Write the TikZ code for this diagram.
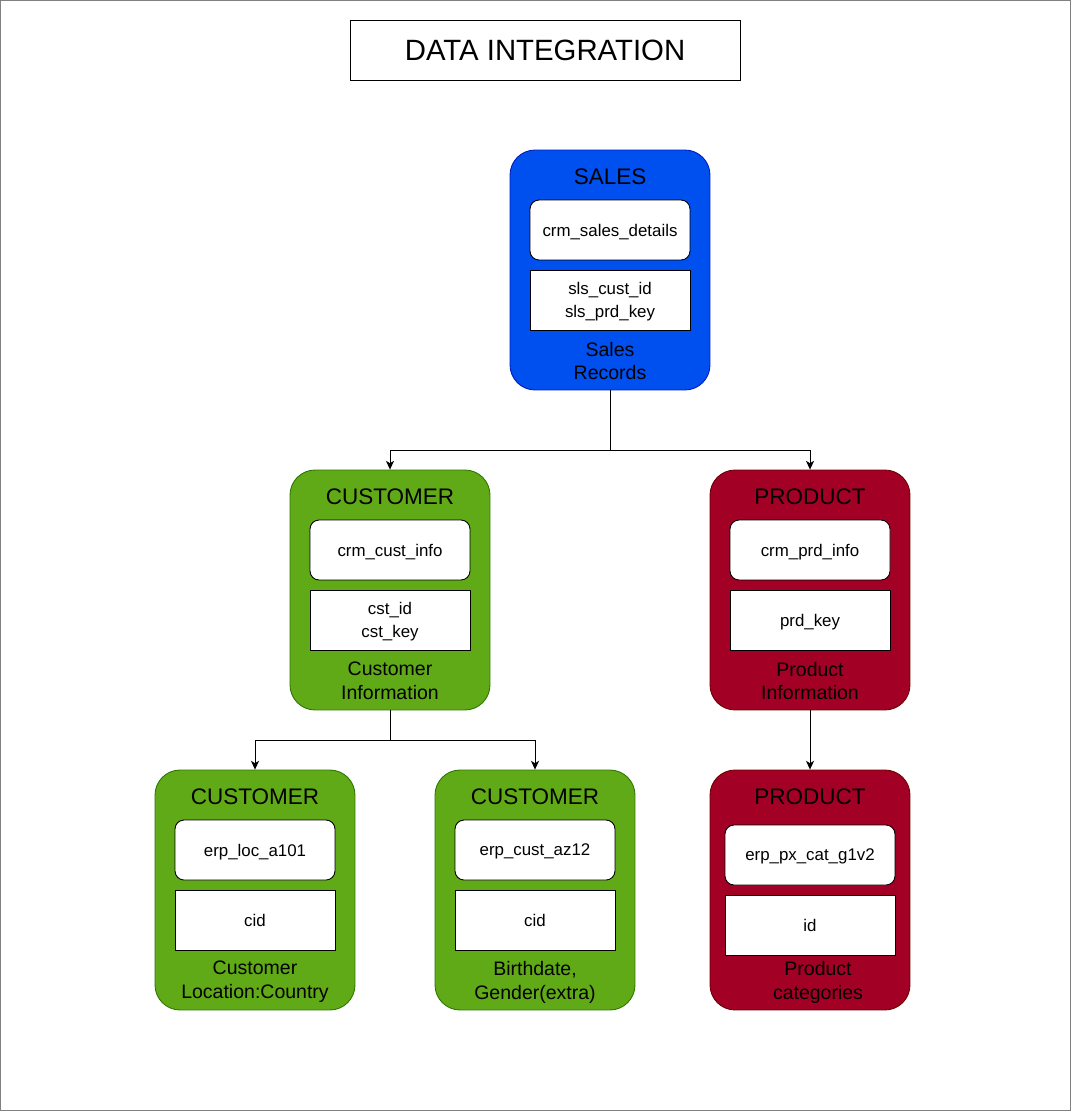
\documentclass[tikz,border=0pt]{standalone}
\usepackage{fontspec}
\setmainfont{Liberation Sans}
\usetikzlibrary{calc,shapes,backgrounds,arrows.meta,positioning}
\definecolor{salesblue}{HTML}{0050EF}
\definecolor{salesedge}{HTML}{001DBC}
\definecolor{custgreen}{HTML}{60A917}
\definecolor{custedge}{HTML}{2D7600}
\definecolor{prodred}{HTML}{A20025}
\definecolor{prodedge}{HTML}{6F0000}
\tikzstyle{groupbox}=[draw,rounded corners=0.5cm,minimum width=4cm,minimum height=4.8cm,line width=0.5pt]
\tikzstyle{tablebox}=[draw=black,fill=white,rounded corners=0.18cm,minimum width=3.2cm,minimum height=1.2cm,line width=0.5pt,text depth=0pt,font=\fontsize{9.6}{13.4}\selectfont]
\tikzstyle{keybox}=[draw=black,fill=white,minimum width=3.2cm,minimum height=1.2cm,line width=0.5pt,text depth=0pt,align=center,font=\fontsize{9.6}{13.4}\selectfont]
\tikzstyle{headtext}=[font=\fontsize{12.8}{15}\selectfont]
\tikzstyle{notetext}=[align=center,font=\fontsize{11.1}{13.6}\selectfont]

\begin{document}
\begin{tikzpicture}[x=0.02cm,y=-0.02cm]
        \tikzstyle{every path}=[line width=0.5pt]
        \tikzset{>={Stealth[length=5pt,width=4.6pt,inset=1.4pt]}}
        \useasboundingbox (0,0) rectangle (1071,1111);
        \draw[gray] (0.5,0.5) rectangle (1070.5,1110.5);
        % Title:
        \node (title) [draw,minimum width=7.8cm,minimum height=1.2cm,
        font=\fontsize{16.7}{20}\selectfont] at (545,50) {DATA INTEGRATION};
        % First line:
        \node (sales) [groupbox,fill=salesblue,draw=salesedge] at (610,270) {};
        \node (sales_h) [headtext] at (610,177) {SALES};
        \node (sales_t) [tablebox] at (610,230) {crm\_sales\_details};
        \node (sales_k) [keybox] at (610,300) {sls\_cust\_id\\sls\_prd\_key};
        \node (sales_n) [notetext] at (610,361) {Sales\\Records};
        % Second line:
        \node (cust_1) [groupbox,fill=custgreen,draw=custedge] at (390,590) {};
        \node (cust_1h) [headtext] at (390,497) {CUSTOMER};
        \node (cust_1t) [tablebox] at (390,550) {crm\_cust\_info};
        \node (cust_1k) [keybox] at (390,620) {cst\_id\\cst\_key};
        \node (cust_1n) [notetext] at (390,681) {Customer\\Information};

        \node (prod_1) [groupbox,fill=prodred,draw=prodedge] at (810,590) {};
        \node (prod_1h) [headtext] at (810,497) {PRODUCT};
        \node (prod_1t) [tablebox] at (810,550) {crm\_prd\_info};
        \node (prod_1k) [keybox] at (810,620) {prd\_key};
        \node (prod_1n) [notetext] at (810,681) {Product\\Information};
        % Third line:
        \node (cust_2) [groupbox,fill=custgreen,draw=custedge] at (255,890) {};
        \node (cust_2h) [headtext] at (255,797) {CUSTOMER};
        \node (cust_2t) [tablebox] at (255,850) {erp\_loc\_a101};
        \node (cust_2k) [keybox] at (255,920) {cid};
        \node (cust_2n) [notetext] at (255,982) {Customer\\Location:Country};

        \node (cust_3) [groupbox,fill=custgreen,draw=custedge] at (535,890) {};
        \node (cust_3h) [headtext] at (535,797) {CUSTOMER};
        \node (cust_3t) [tablebox] at (535,850) {erp\_cust\_az12};
        \node (cust_3k) [keybox] at (535,920) {cid};
        \node (cust_3n) [notetext] at (535,982) {Birthdate,\\Gender(extra)};

        \node (prod_2) [groupbox,fill=prodred,draw=prodedge] at (810,890) {};
        \node (prod_2h) [headtext] at (810,797) {PRODUCT};
        \node (prod_2t) [tablebox,minimum width=3.4cm] at (810,855) {erp\_px\_cat\_g1v2};
        \node (prod_2k) [keybox,minimum width=3.4cm] at (810,925) {id};
        \node (prod_2n) [notetext] at (818,982) {Product\\categories};

        % Links:
        \coordinate (sales_j) at (610,450);
        \coordinate (cust_j) at (390,740);
        \draw (sales) -- (sales_j);
        \draw[->] (sales_j) -| (cust_1);
        \draw[->] (sales_j) -| (prod_1);
        \draw (cust_1) -- (cust_j);
        \draw[->] (cust_j) -| (cust_2);
        \draw[->] (cust_j) -| (cust_3);
        \draw[->] (prod_1) -- (prod_2);
\end{tikzpicture}
\end{document}
